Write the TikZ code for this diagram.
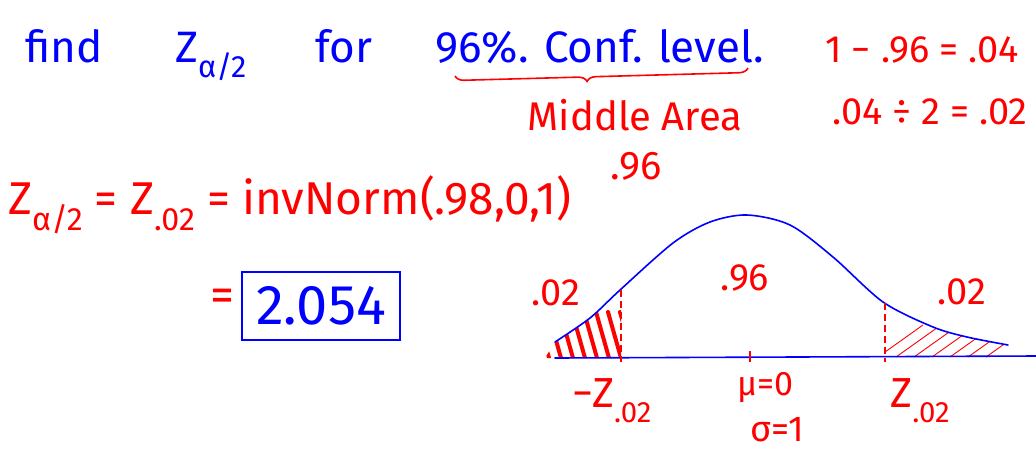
\documentclass[tikz,border=0pt]{standalone}
\usepackage{fontspec}
\setmainfont{Fira Sans}
\usetikzlibrary{decorations.pathreplacing}
\newcommand\lowsub[1]{\raisebox{-.35em}{\scalebox{.7}{#1}}}
\newcommand\bellpts{(555,342) (590,318) (620,290) (673,243) (710,222) (747,215)
  (790,225) (833,257) (883,302) (933,327) (967,337) (1008,345)}

\begin{document}
\begin{tikzpicture}[
  x=1pt, y=-1pt,
  bluetxt/.style={text=blue, inner sep=0pt, font=\fontsize{44}{46}\selectfont},
  redtxt/.style={text=red, inner sep=0pt, font=\fontsize{38}{40}\selectfont},
  curve/.style={blue, line width=1.6pt, line cap=round},
  cutline/.style={red, line width=1.6pt, dash pattern=on 7pt off 4pt},
  thickhatch/.style={red, line width=4pt, line cap=round},
  thinhatch/.style={red, line width=0.9pt}
]
\useasboundingbox (0,0) rectangle (1036,456);

% question
\node[bluetxt, anchor=base west] (find) at (25,62) {find};
\node[bluetxt, anchor=base west] (zhalf) at (175,62) {Z\lowsub{α/2}};
\node[bluetxt, anchor=base west] (for) at (315,62) {for};
\node[bluetxt, anchor=base west] (conf) at (435,62) {96\%. Conf. level.};
\draw[red, line width=1.6pt, decorate,
  decoration={brace, mirror, amplitude=9pt, aspect=0.45}] (455,76) -- (748,68);
\node[redtxt, font=\fontsize{40}{42}\selectfont] (middle) at (635,115) {Middle Area};

% tail area
\node[redtxt] (oneminus) at (922,50) {1 − .96 = .04};
\node[redtxt] (divide) at (930,112) {.04 ÷ 2 = .02};

% answer
\node[redtxt, anchor=west, font=\fontsize{46}{48}\selectfont] (zeq) at (8,205)
  {Z\lowsub{α/2} = Z\lowsub{.02} = invNorm(.98,0,1)};
\node[redtxt, font=\fontsize{40}{42}\selectfont] (topnum) at (636,166) {.96};
\node[redtxt, font=\fontsize{48}{50}\selectfont] (eqsign) at (222,300) {=};
\node[draw=blue, line width=2pt, text=blue, minimum width=158pt, minimum height=68pt,
  font=\fontsize{56}{58}\selectfont] (ans) at (321,306) {2.054};

% normal curve
\coordinate (lcut) at (621,290);
\coordinate (rcut) at (885,303);
\coordinate (mean) at (750,357);
\begin{scope}
  \clip plot[smooth] coordinates {\bellpts} -- (1010,358) -- (545,358) -- cycle;
  \begin{scope}
    \clip (545,280) rectangle (621,360);
    \foreach \x in {536,548,...,620}
      \draw[thickhatch] (\x,312) -- ++(13,46);
  \end{scope}
  \begin{scope}
    \clip (885,280) rectangle (1010,360);
    \foreach \x in {878,896,...,1000}
      \draw[thinhatch] (\x,357) -- ++(45,-32);
  \end{scope}
\end{scope}
\draw[curve] plot[smooth] coordinates {\bellpts};
\draw[curve] (555,358) -- (1036,356);
\draw[cutline] (lcut) -- (621,362);
\draw[cutline] (rcut) -- (885,362);
\draw[red, line width=2.5pt] (mean) ++(0,-6) -- ++(0,11);

% labels
\node[redtxt] (lefta) at (556,293) {.02};
\node[redtxt] (mida) at (745,278) {.96};
\node[redtxt] (righta) at (962,292) {.02};
\node[redtxt, font=\fontsize{42}{44}\selectfont] (lz) at (612,401) {−Z\lowsub{.02}};
\node[redtxt, font=\fontsize{34}{36}\selectfont] (mu) at (765,388) {μ=0};
\node[redtxt, font=\fontsize{36}{38}\selectfont] (sigma) at (777,430) {σ=1};
\node[redtxt, font=\fontsize{42}{44}\selectfont] (rz) at (920,401) {Z\lowsub{.02}};
\end{tikzpicture}
\end{document}
